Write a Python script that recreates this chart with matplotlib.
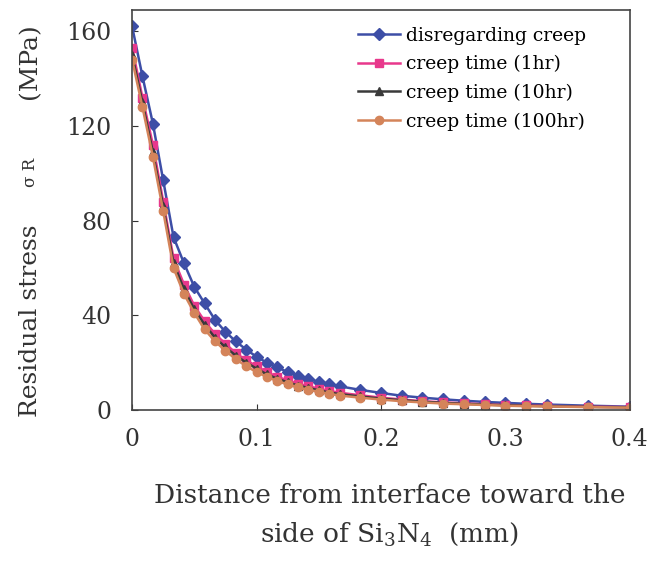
import matplotlib
matplotlib.use("Agg")
import matplotlib.pyplot as plt

plt.rcParams['font.family'] = ['DejaVu Serif']
plt.rcParams['mathtext.fontset'] = 'dejavuserif'

# distance from the interface (mm): fine mesh near the joint, coarser further out
x = [0, 0.0083, 0.0167, 0.025, 0.0333, 0.0417, 0.05, 0.0583, 0.0667, 0.075,
     0.0833, 0.0917, 0.1, 0.1083, 0.1167, 0.125, 0.1333, 0.1417, 0.15, 0.1583,
     0.1667, 0.1833, 0.2, 0.2167, 0.2333, 0.25, 0.2667, 0.2833, 0.3, 0.3167,
     0.3333, 0.3667, 0.4]

no_creep = [162, 141, 121, 97, 73, 62, 52, 45, 38, 33, 29, 25.5, 22.5, 20, 18,
            16, 14.5, 13, 12, 11, 10, 8.5, 7.2, 6, 5.2, 4.5, 3.9, 3.4, 3, 2.6,
            2.3, 1.8, 1.4]
creep_1hr = [153, 132, 112, 88, 64, 53, 44, 37.5, 32, 28, 24, 21, 18.5, 16, 14,
             12.5, 11, 10, 9, 8, 7.3, 6.2, 5.2, 4.4, 3.7, 3.2, 2.8, 2.4, 2.1,
             1.9, 1.7, 1.4, 1.2]
creep_10hr = [150, 130, 109, 86, 62, 51, 42.5, 36, 30.5, 26.5, 23, 20, 17.5, 15,
              13.2, 11.7, 10.3, 9.3, 8.3, 7.4, 6.7, 5.7, 4.8, 4.1, 3.5, 3, 2.6,
              2.3, 2, 1.8, 1.6, 1.3, 1.1]
creep_100hr = [148, 128, 107, 84, 60, 49, 41, 34, 29, 25, 21.5, 18.5, 16, 14,
               12.2, 10.8, 9.5, 8.5, 7.6, 6.8, 6.1, 5.2, 4.4, 3.7, 3.2, 2.7, 2.4,
               2.1, 1.8, 1.6, 1.5, 1.2, 1.0]

labels = ["disregarding creep", "creep time (1hr)", "creep time (10hr)",
          "creep time (100hr)"]
colors = ["#3d4ea6", "#e8388c", "#3a3a3a", "#d4845a"]
markers = ["D", "s", "^", "o"]

fig = plt.figure(figsize=(6.54, 5.84), dpi=100)
ax = fig.add_axes([0.202, 0.298, 0.761, 0.685])

series = [no_creep, creep_1hr, creep_10hr, creep_100hr]
for ys, lab, c, m in zip(series, labels, colors, markers):
    ax.plot(x, ys, color=c, marker=m, markersize=6, linewidth=1.8, label=lab)

ax.set_xlim(0, 0.4)
ax.set_ylim(0, 169)
ax.set_xticks([0, 0.1, 0.2, 0.3, 0.4])
ax.set_xticklabels(["0", "0.1", "0.2", "0.3", "0.4"])
ax.set_yticks([0, 40, 80, 120, 160])
ax.tick_params(direction='in', length=4, labelsize=17, colors='#333333')
ax.tick_params(axis='x', pad=13)
ax.tick_params(axis='y', pad=15)
for s in ax.spines.values():
    s.set_color('#444444')
    s.set_linewidth(1.2)

ax.legend(loc='upper left', bbox_to_anchor=(0.548, 0.954),
          bbox_transform=fig.transFigure, frameon=False, fontsize=13.5,
          borderpad=0, borderaxespad=0, handlelength=2.2, handletextpad=0.35,
          labelspacing=0.55)

# axis titles
fig.text(0.596, 0.118,
         "Distance from interface toward the\nside of Si$_3$N$_4$  (mm)",
         ha='center', va='center', fontsize=19, linespacing=1.6,
         color='#333333')
fig.text(0.046, 0.450, "Residual stress", rotation=90, ha='center',
         va='center', fontsize=18, color='#333333')
fig.text(0.046, 0.705, "σ R", rotation=90, ha='center', va='center',
         fontsize=12, color='#333333')
fig.text(0.046, 0.896, "(MPa)", rotation=90, ha='center', va='center',
         fontsize=18, color='#333333')

fig.savefig("out.png", dpi=100)
